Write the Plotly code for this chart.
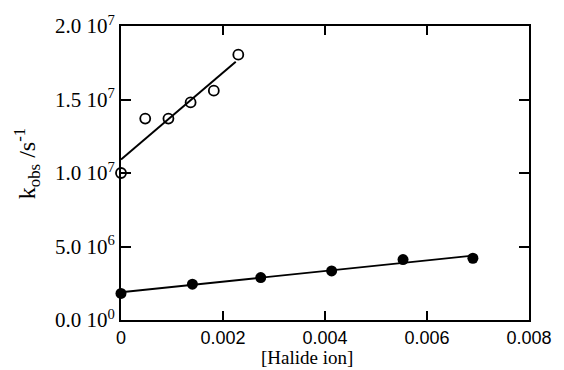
import numpy as np
import plotly.graph_objects as go

# open circles (upper series)
x_open = [0.0, 0.000475, 0.00093, 0.001365, 0.00182, 0.0023]
y_open = [1.00e7, 1.37e7, 1.37e7, 1.48e7, 1.56e7, 1.805e7]
# filled circles (lower series)
x_fill = [0.0, 0.0014, 0.00274, 0.00413, 0.00553, 0.0069]
y_fill = [1.81e6, 2.44e6, 2.89e6, 3.34e6, 4.11e6, 4.20e6]

y_tickvals = [0, 5e6, 1e7, 1.5e7, 2e7]
y_ticktext = ["0.0 10<sup>0</sup>", "5.0 10<sup>6</sup>", "1.0 10<sup>7</sup>",
              "1.5 10<sup>7</sup>", "2.0 10<sup>7</sup>"]
x_tickvals = [0, 0.002, 0.004, 0.006, 0.008]
x_ticktext = ["0", "0.002", "0.004", "0.006", "0.008"]

p_open = np.polyfit(x_open, y_open, 1)
p_fill = np.polyfit(x_fill, y_fill, 1)
xl_open = np.array([0.0, 0.00225])
xl_fill = np.array([0.0, 0.0069])

fig = go.Figure()
fig.add_trace(go.Scatter(x=xl_open, y=np.polyval(p_open, xl_open), mode="lines",
                         line=dict(color="black", width=2), cliponaxis=False))
fig.add_trace(go.Scatter(x=xl_fill, y=np.polyval(p_fill, xl_fill), mode="lines",
                         line=dict(color="black", width=1.8), cliponaxis=False))
fig.add_trace(go.Scatter(x=x_open, y=y_open, mode="markers", cliponaxis=False,
                         marker=dict(symbol="circle-open", size=10, color="black",
                                     line=dict(width=1.8, color="black"))))
fig.add_trace(go.Scatter(x=x_fill, y=y_fill, mode="markers", cliponaxis=False,
                         marker=dict(symbol="circle", size=11, color="black")))

fig.update_layout(
    width=564, height=370, showlegend=False,
    margin=dict(l=121, r=27, t=25, b=50),
    plot_bgcolor="white", paper_bgcolor="white",
    xaxis=dict(range=[0, 0.008], tickvals=x_tickvals, ticktext=x_ticktext,
               ticks="inside", ticklen=9, tickwidth=2, tickcolor="black",
               showline=True, linewidth=2, linecolor="black", mirror="ticks",
               showgrid=False, zeroline=False, ticklabelstandoff=0,
               tickfont=dict(family="Liberation Sans", size=18, color="black")),
    yaxis=dict(range=[0, 2e7], tickvals=y_tickvals, ticktext=y_ticktext,
               ticks="inside", ticklen=10, tickwidth=2, tickcolor="black",
               showline=True, linewidth=2, linecolor="black", mirror="ticks",
               showgrid=False, zeroline=False,
               tickfont=dict(family="Liberation Serif", size=21, color="black")),
    annotations=[
        dict(text="[Halide ion]", xref="paper", yref="paper", x=0.455, y=0,
             yshift=-50, showarrow=False, xanchor="center", yanchor="bottom",
             font=dict(family="Liberation Serif", size=19, color="black")),
        dict(text="k<sub>obs</sub> /s<sup>-1</sup>", xref="paper", yref="paper",
             x=0, xshift=-94, y=0.53, showarrow=False, textangle=-90,
             xanchor="center", yanchor="middle",
             font=dict(family="Liberation Serif", size=24, color="black")),
    ],
)

fig.write_html("out.html")
